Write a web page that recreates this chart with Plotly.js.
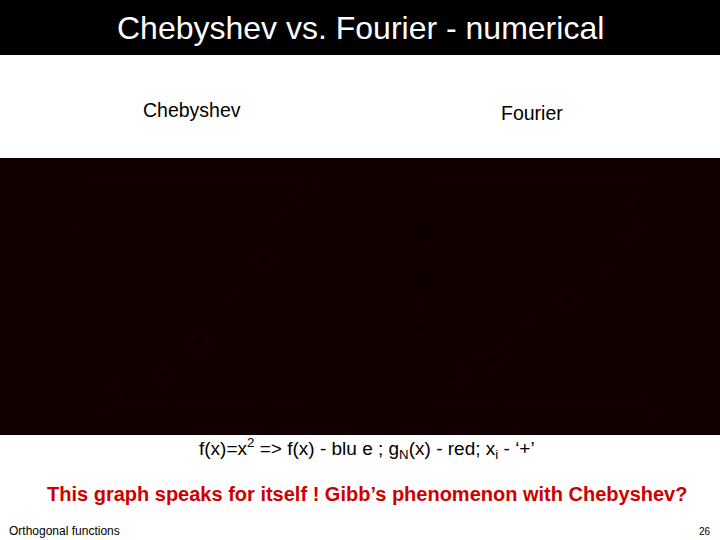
<!DOCTYPE html>
<html><head><meta charset="utf-8">
<script src="https://cdn.plot.ly/plotly-3.0.1.min.js"></script>
<style>html,body{margin:0;padding:0;background:#fff}#c{width:720px;height:540px}</style>
</head><body><div id="c"></div>
<script>
// Chebyshev panel (f(x)=x^2 on [0,1])
var chebNodesX = [0.196, 0.357, 0.522, 0.679, 0.80, 0.90, 0.97, 1.0];
var chebNodesY = [0.038, 0.127, 0.272, 0.461, 0.64, 0.81, 0.94, 1.0];
var chebFx = [0, 0.1, 0.2, 0.3, 0.4, 0.5, 0.6, 0.7, 0.8, 0.9, 1.0];
var chebFy = [0, 0.01, 0.04, 0.09, 0.16, 0.25, 0.36, 0.49, 0.64, 0.81, 1.0];
var chebGx = [0.0, 0.1, 0.2, 0.3, 0.4, 0.5, 0.6, 0.7, 0.8, 0.9, 1.0];
var chebGy = [0.02, 0.0, 0.04, 0.1, 0.15, 0.25, 0.37, 0.48, 0.64, 0.82, 1.0];
var chebXTicks = [0, 0.2, 0.4, 0.6, 0.8, 1];
var chebYTicks = [0, 0.2, 0.4, 0.6, 0.8, 1];

// Fourier panel (f(x)=x^2 on [0,2pi])
var fourNodesX = [0.70, 1.54, 1.84, 2.26, 3.1, 3.9, 4.7, 5.5, 5.9];
var fourNodesY = [0.2, 2.2, 3.6, 5.6, 9.4, 15.6, 22.2, 30.4, 34.8];
var fourFx = [0, 0.5, 1, 1.5, 2, 2.5, 3, 3.5, 4, 4.5, 5, 5.5, 6, 6.28];
var fourFy = [0, 0.25, 1, 2.25, 4, 6.25, 9, 12.25, 16, 20.25, 25, 30.25, 36, 39.4];
var fourGx = [0, 0.15, 0.35, 0.6, 1, 1.5, 2, 2.5, 3, 3.5, 4, 4.5, 5, 5.5, 5.9, 6.1, 6.2, 6.28];
var fourGy = [19.7, 9, 1.5, 0.8, 1.6, 2.0, 4.3, 6.0, 9.2, 12.0, 16.2, 20.0, 25.3, 30.0, 35.5, 40, 33, 19.7];
var fourXTicks = [0, 2, 4, 6];
var fourYTicks = [-5, 0, 5, 10, 15, 20, 25, 30, 35];

var ink = '#040000';
var lineBlue = '#0b0002';
var lineRed = '#0e0000';

function px(v){return v/720;}
function py(v){return 1 - v/540;}

var traces = [
  {x: chebFx, y: chebFy, xaxis:'x', yaxis:'y', mode:'lines', line:{color:lineBlue, width:1}},
  {x: chebGx, y: chebGy, xaxis:'x', yaxis:'y', mode:'lines', line:{color:lineRed, width:1, dash:'dot'}},
  {x: chebNodesX, y: chebNodesY, xaxis:'x', yaxis:'y', mode:'markers', marker:{symbol:'cross-thin', size:6, line:{color:ink, width:1.5}}},
  {x: fourFx, y: fourFy, xaxis:'x2', yaxis:'y2', mode:'lines', line:{color:lineBlue, width:1}},
  {x: fourGx, y: fourGy, xaxis:'x2', yaxis:'y2', mode:'lines', line:{color:lineRed, width:1, dash:'dot'}},
  {x: fourNodesX, y: fourNodesY, xaxis:'x2', yaxis:'y2', mode:'markers', marker:{symbol:'cross-thin', size:6, line:{color:ink, width:1.5}}}
];

function ax(dom, anchor, range, ticks){
  return {domain: dom, anchor: anchor, range: range, tickvals: ticks,
    showgrid:false, zeroline:false, showline:true, mirror:true, linecolor:ink, linewidth:1,
    ticks:'inside', ticklen:3, tickcolor:ink, tickfont:{family:'Arial, Liberation Sans', size:9, color:'#070000'}};
}

var layout = {
  width:720, height:540, margin:{l:0,r:0,t:0,b:0},
  paper_bgcolor:'#ffffff', plot_bgcolor:'rgba(0,0,0,0)', showlegend:false,
  xaxis: ax([px(83), px(307)], 'y', [0, 1], chebXTicks),
  yaxis: ax([py(403), py(180)], 'x', [0, 1], chebYTicks),
  xaxis2: ax([px(427), px(652)], 'y2', [0, 6.28], fourXTicks),
  yaxis2: ax([py(403), py(178)], 'x2', [-5, 40], fourYTicks),
  shapes: [
    {type:'rect', xref:'paper', yref:'paper', x0:0, x1:1, y0:py(55), y1:1, fillcolor:'#000000', line:{width:0}, layer:'below'},
    {type:'rect', xref:'paper', yref:'paper', x0:0, x1:1, y0:py(435), y1:py(158), fillcolor:'#120000', line:{width:0}, layer:'below'}
  ],
  annotations: [
    {text:'Chebyshev vs. Fourier - numerical', xref:'paper', yref:'paper', x:px(360), y:py(28), showarrow:false, xanchor:'center', yanchor:'middle', font:{family:'Arial, Liberation Sans', size:32, color:'#ffffff'}},
    {text:'Chebyshev', xref:'paper', yref:'paper', x:px(192), y:py(110), showarrow:false, xanchor:'center', yanchor:'middle', font:{family:'Arial, Liberation Sans', size:19.5, color:'#000000'}},
    {text:'Fourier', xref:'paper', yref:'paper', x:px(532), y:py(113), showarrow:false, xanchor:'center', yanchor:'middle', font:{family:'Arial, Liberation Sans', size:19.5, color:'#000000'}},
    {text:'f(x)=x<sup>2</sup> => f(x) - blu e ; g<sub>N</sub>(x) - red; x<sub>i</sub> - ‘+’', xref:'paper', yref:'paper', x:px(367), y:py(448), showarrow:false, xanchor:'center', yanchor:'middle', font:{family:'Arial, Liberation Sans', size:19, color:'#000000'}},
    {text:'<b>This graph speaks for itself ! Gibb’s phenomenon with Chebyshev?</b>', xref:'paper', yref:'paper', x:px(367), y:py(494), showarrow:false, xanchor:'center', yanchor:'middle', font:{family:'Arial, Liberation Sans', size:20, color:'#cc0000'}},
    {text:'Orthogonal functions', xref:'paper', yref:'paper', x:px(7), y:py(531), showarrow:false, xanchor:'left', yanchor:'middle', font:{family:'Arial, Liberation Sans', size:12, color:'#000000'}},
    {text:'26', xref:'paper', yref:'paper', x:px(713), y:py(531), showarrow:false, xanchor:'right', yanchor:'middle', font:{family:'Arial, Liberation Sans', size:10, color:'#000000'}}
  ]
};
Plotly.newPlot('c', traces, layout, {staticPlot:true, displayModeBar:false});
</script></body></html>
